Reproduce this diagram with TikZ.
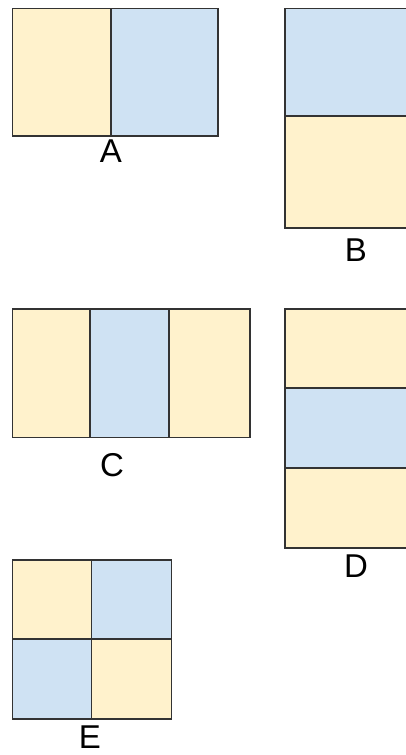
\documentclass[tikz,border=0pt]{standalone}
\usepackage{fontspec}
\setsansfont{Liberation Sans}
\usetikzlibrary{positioning}
\definecolor{cellorange}{HTML}{FFF2CC}
\definecolor{cellblue}{HTML}{CFE2F3}
\definecolor{edgegray}{HTML}{333333}

\begin{document}
\begin{tikzpicture}[
  x=1pt,y=-1pt,
  font=\sffamily,
  cell/.style={draw=edgegray,line width=1.5pt,inner sep=0pt,outer sep=0pt,anchor=north west},
  warm/.style={cell,fill=cellorange},
  cool/.style={cell,fill=cellblue},
  tag/.style={font=\fontsize{33}{33}\selectfont\sffamily,inner sep=0pt,outer sep=0pt,anchor=north},
]
\useasboundingbox (0,0) rectangle (406,755);
\clip (0,0) rectangle (406,755);

% ---------- A: two columns ----------
\node[warm,minimum width=98.5pt,minimum height=127.5pt] (a1) at (12.5,8.5) {};
\node[cool,minimum width=107pt,minimum height=127.5pt] (a2) at (a1.north east) {};
\node[tag] (labA) at ([yshift=-4pt]a1.south east) {A};

% ---------- B: two rows ----------
\node[cool,minimum width=142pt,minimum height=107.5pt] (b1) at (285,8.5) {};
\node[warm,minimum width=142pt,minimum height=112pt] (b2) at (b1.south west) {};
\node[tag] (labB) at ([yshift=-11pt]b2.south) {B};

% ---------- C: three columns ----------
\node[warm,minimum width=77.5pt,minimum height=128.5pt] (c1) at (12.5,309) {};
\node[cool,minimum width=79pt,minimum height=128.5pt] (c2) at (c1.north east) {};
\node[warm,minimum width=81pt,minimum height=128.5pt] (c3) at (c2.north east) {};
\node[tag] (labC) at ([xshift=22pt,yshift=-16pt]c1.south east) {C};

% ---------- D: three rows ----------
\node[warm,minimum width=142pt,minimum height=79pt] (d1) at (285,309) {};
\node[cool,minimum width=142pt,minimum height=80pt] (d2) at (d1.south west) {};
\node[warm,minimum width=142pt,minimum height=80pt] (d3) at (d2.south west) {};
\node[tag] (labD) at ([yshift=-7pt]d3.south) {D};

% ---------- E: 2x2 checker ----------
\node[warm,minimum width=79pt,minimum height=79pt] (e1) at (12.5,560) {};
\node[cool,minimum width=80pt,minimum height=79pt] (e2) at (e1.north east) {};
\node[cool,minimum width=79pt,minimum height=80pt] (e3) at (e1.south west) {};
\node[warm,minimum width=80pt,minimum height=80pt] (e4) at (e1.south east) {};
\node[tag] (labE) at ([xshift=-1.5pt,yshift=-7pt]e4.south west) {E};

\end{tikzpicture}
\end{document}
